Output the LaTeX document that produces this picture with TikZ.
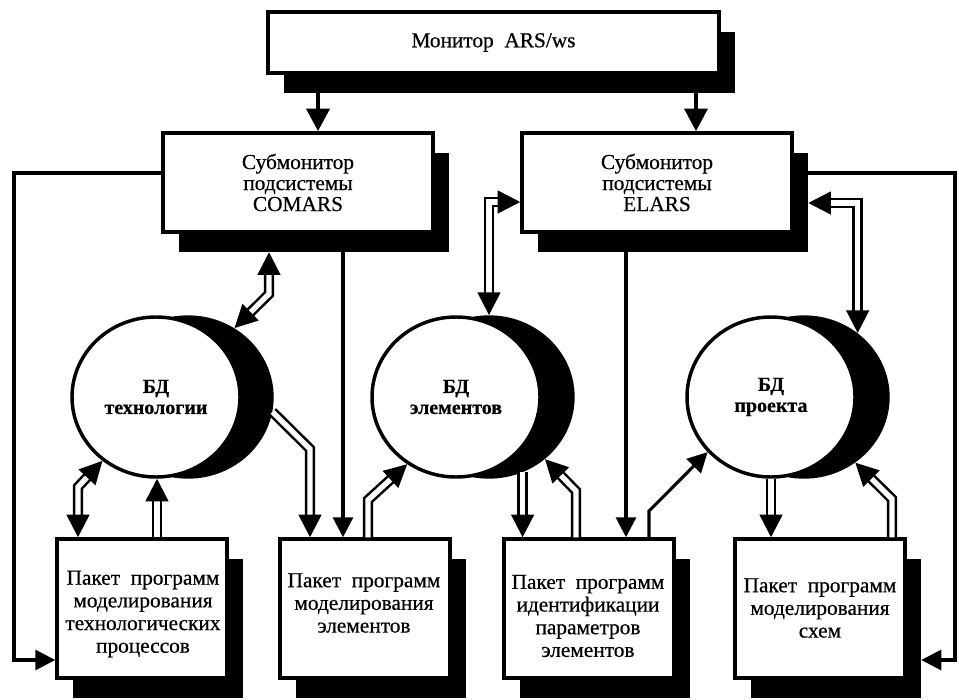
\documentclass[tikz,border=0pt]{standalone}
\usepackage{fontspec}
\setmainfont{Liberation Serif}[FakeBold=0.5]
\usetikzlibrary{arrows.meta,shapes.geometric}

\begin{document}
\begin{tikzpicture}[x=0.75pt,y=-0.75pt,
  >={Triangle[length=17pt,width=17pt]},
  panel/.style={draw, line width=2.6pt, fill=white, inner sep=0pt, align=center},
  shade/.style={fill=black, draw=none, inner sep=0pt},
  subtxt/.style={font=\fontsize{16}{15.75}\selectfont},
  boxtxt/.style={align=center, inner sep=0pt, font=\fontsize{16}{17}\selectfont},
  disk/.style={ellipse, draw, line width=2.6pt, fill=white, inner sep=0pt,
    minimum width=126pt, minimum height=120pt, align=center,
    font=\bfseries\fontsize{15}{15.75}\selectfont},
  diskshade/.style={ellipse, fill=black, draw=none, inner sep=0pt,
    minimum width=128.5pt, minimum height=122.5pt},
  bigarr/.style={line width=3.6pt, ->},
  link/.style={line width=2.3pt, -{Triangle[length=15pt,width=15pt]}},
  pipe/.style={double, line width=1.9pt, double distance=4pt}
]
\fill[white] (0,0) rectangle (959,699);
\useasboundingbox (0,0) rectangle (959,699);

% top monitor
\node[shade, minimum width=451*0.75pt, minimum height=61*0.75pt] (monS) at (509.5,62.5) {};
\node[panel, minimum width=451*0.75pt, minimum height=61*0.75pt, font=\fontsize{16}{17}\selectfont] (mon) at (493.5,42.5) {Монитор\ \ ARS/ws};

% submonitors
\node[shade, minimum width=270*0.75pt, minimum height=99*0.75pt] (lsubS) at (314,202.5) {};
\node[panel, subtxt, minimum width=270*0.75pt, minimum height=99*0.75pt] (lsub) at (298,182.5) {Субмонитор\\подсистемы\\COMARS};
\node[shade, minimum width=270*0.75pt, minimum height=99*0.75pt] (rsubS) at (673,202.5) {};
\node[panel, subtxt, minimum width=270*0.75pt, minimum height=99*0.75pt] (rsub) at (657,182.5) {Субмонитор\\подсистемы\\ELARS};

% databases
\node[diskshade] (db1s) at (188,397) {};
\node[disk] (db1) at (156,397) {БД\\технологии};
\node[diskshade] (db2s) at (489,397) {};
\node[disk] (db2) at (456,397) {БД\\элементов};
\node[diskshade] (db3s) at (804,397) {};
\node[disk] (db3) at (771,397) {БД\\проекта};

% program packages
\foreach \n/\x in {b1/142, b2/365, b3/589, b4/820}{
  \node[shade, minimum width=170*0.75pt, minimum height=139*0.75pt] (\n S) at (\x+16,628.5) {};
  \node[panel, minimum width=170*0.75pt, minimum height=139*0.75pt] (\n) at (\x,608.5) {};
}
\node[boxtxt] (b1t) at (143,614) {Пакет\ \ программ\\моделирования\\технологических\\процессов};
\node[boxtxt] (b2t) at (364,603) {Пакет\ \ программ\\моделирования\\элементов};
\node[boxtxt] (b3t) at (588,616) {Пакет\ \ программ\\идентификации\\параметров\\элементов};
\node[boxtxt] (b4t) at (820,608) {Пакет\ \ программ\\моделирования\\схем};

% control flow from the monitors
\draw[bigarr] (monS.south -| 318,0) -- (lsub.north -| 318,0);
\draw[bigarr] (monS.south -| 696,0) -- (rsub.north -| 696,0);
\draw[link] (lsub.west |- 0,173) -| (14,660) -- (b1.west |- 0,660);
\draw[link] (rsubS.east |- 0,173) -| (955,660) -- (b4S.east |- 0,660);
\draw[link] (lsubS.south -| 343,0) -- (b2.north -| 343,0);
\draw[link] (rsubS.south -| 626,0) -- (b3.north -| 626,0);
\draw[link] (b3.north -| 649,0) -- (649,511) -- (db3.221);

% data exchange
\draw[pipe, <->] (db1s.56) -- (269,294) -- (lsubS.south -| 269,0);
\draw[pipe, ->] (db1s.-10) -- (310,449) -- (b2.north -| 310,0);
\draw[pipe, <->] (b1.north -| 78,0) -- (78,487) -- (db1.230);
\draw[pipe, ->] (b1.north -| 157,0) -- (db1.south -| 157,0);
\draw[pipe, ->] (b2.north -| 368,0) -- (368,500) -- (db2.234);
\draw[pipe, ->] (db2s.-66) -- (db2s.-66 |- b3.north);
\draw[pipe, ->] (b3.north -| 576,0) -- (576,491) -- (db2s.-48.5);
\draw[pipe, ->] (db3.south) -- (db3.south |- b4.north);
\draw[pipe, ->] (b4.north -| 892,0) -- (892,499) -- (db3s.-52);
\draw[pipe, <->] (db2s.north) -- (489,202) -- (rsub.west |- 0,202);
\draw[pipe, <->] (db3s.50) -- (db3s.50 |- 0,203) -- (rsubS.east |- 0,203);
\end{tikzpicture}
\end{document}
